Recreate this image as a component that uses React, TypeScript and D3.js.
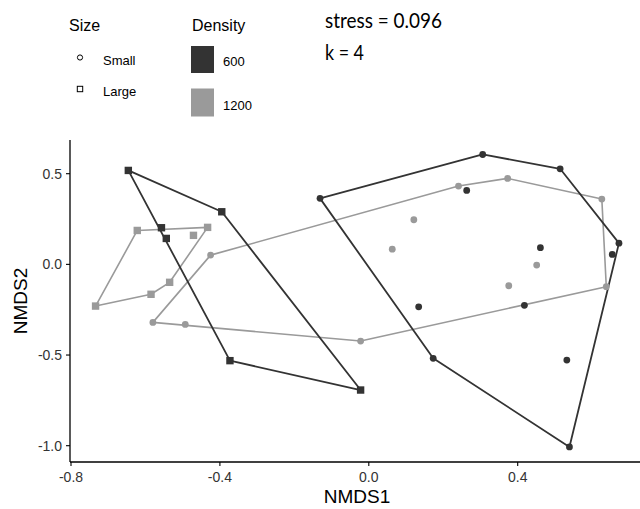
import React from "react";
import * as d3 from "d3";

// ---- data (NMDS scores) ----
const smallDarkX = [-0.131, 0.306, 0.514, 0.672, 0.654, 0.263, 0.461, 0.134, 0.418, 0.173, 0.532, 0.539];
const smallDarkY = [0.364, 0.606, 0.527, 0.117, 0.055, 0.408, 0.092, -0.234, -0.226, -0.518, -0.528, -1.007];
const smallLightX = [0.241, 0.373, 0.626, 0.638, 0.121, 0.063, 0.451, 0.376, -0.022, -0.425, -0.58, -0.493];
const smallLightY = [0.432, 0.474, 0.36, -0.123, 0.246, 0.084, -0.004, -0.118, -0.423, 0.051, -0.32, -0.331];
const largeDarkX = [-0.646, -0.395, -0.557, -0.544, -0.373, -0.022];
const largeDarkY = [0.518, 0.29, 0.202, 0.143, -0.531, -0.693];
const largeLightX = [-0.622, -0.433, -0.471, -0.535, -0.585, -0.734];
const largeLightY = [0.187, 0.204, 0.16, -0.099, -0.165, -0.23];

const xTicks = [-0.8, -0.4, 0.0, 0.4];
const yTicks = [-1.0, -0.5, 0.0, 0.5];
const densityLevels = ["600", "1200"];
const sizeLevels = ["Small", "Large"];
const stressText = "stress = 0.096";
const kText = "k = 4";

const DARK = "#333333";
const LIGHT = "#9a9a9a";

export default function App() {
  const W = 640, H = 509;
  const left = 70, right = 640, top = 140, bottom = 462;
  const x = d3.scaleLinear().domain([-0.8, 0.4]).range([71, 517.7]);
  const y = d3.scaleLinear().domain([-1.0, 0.5]).range([445.7, 173.7]);

  const groups = [
    { xs: smallLightX, ys: smallLightY, color: LIGHT, shape: "circle" },
    { xs: largeLightX, ys: largeLightY, color: LIGHT, shape: "square" },
    { xs: smallDarkX, ys: smallDarkY, color: DARK, shape: "circle" },
    { xs: largeDarkX, ys: largeDarkY, color: DARK, shape: "square" },
  ];

  const font = "'Liberation Sans', Arial, sans-serif";
  const annFont = "Lato, 'Open Sans', sans-serif";

  return (
    <svg width={W} height={H} style={{ position: "absolute", left: 0, top: 0, background: "#fff" }}>
      <rect x={0} y={0} width={W} height={H} fill="#fff" />
      {/* hulls */}
      {groups.map((g, i) => {
        const pts: [number, number][] = g.xs.map((v, j) => [x(v), y(g.ys[j])]);
        const hull = d3.polygonHull(pts) || pts;
        return (
          <path key={"h" + i} d={"M" + hull.map((p) => p.join(",")).join("L") + "Z"}
            fill="none" stroke={g.color} strokeWidth={g.color === DARK ? 1.8 : 1.6} strokeLinejoin="round" />
        );
      })}
      {/* points */}
      {groups.map((g, i) =>
        g.xs.map((v, j) =>
          g.shape === "circle" ? (
            <circle key={"p" + i + "-" + j} cx={x(v)} cy={y(g.ys[j])} r={3.4} fill={g.color} />
          ) : (
            <rect key={"p" + i + "-" + j} x={x(v) - 3.7} y={y(g.ys[j]) - 3.7} width={7.4} height={7.4} fill={g.color} />
          )
        )
      )}
      {/* axes */}
      <line x1={left} x2={left} y1={top} y2={bottom} stroke="#000" strokeWidth={1.3} />
      <line x1={left} x2={right} y1={bottom} y2={bottom} stroke="#000" strokeWidth={1.3} />
      {xTicks.map((t) => (
        <g key={"xt" + t}>
          <line x1={x(t)} x2={x(t)} y1={bottom} y2={bottom + 4} stroke="#000" strokeWidth={1.1} />
          <text x={x(t)} y={482} textAnchor="middle" fontFamily={font} fontSize={14} fill="#333">
            {d3.format(".1f")(t).replace("−", "-")}
          </text>
        </g>
      ))}
      {yTicks.map((t) => (
        <g key={"yt" + t}>
          <line x1={left - 4} x2={left} y1={y(t)} y2={y(t)} stroke="#000" strokeWidth={1.1} />
          <text x={62} y={y(t) + 5} textAnchor="end" fontFamily={font} fontSize={14} fill="#333">
            {d3.format(".1f")(t).replace("−", "-")}
          </text>
        </g>
      ))}
      <text x={357} y={503} textAnchor="middle" fontFamily={font} fontSize={19} fill="#000">NMDS1</text>
      <text transform={`translate(27,301) rotate(-90)`} textAnchor="middle" fontFamily={font} fontSize={19} fill="#000">NMDS2</text>

      {/* legend: Size */}
      <text x={69} y={31} fontFamily={font} fontSize={16} fill="#000">Size</text>
      <circle cx={80} cy={57.5} r={2.6} fill="none" stroke="#000" strokeWidth={1} />
      <rect x={77.3} y={86.3} width={5.4} height={5.4} fill="none" stroke="#000" strokeWidth={1} />
      <text x={103} y={64.5} fontFamily={font} fontSize={13} fill="#000">{sizeLevels[0]}</text>
      <text x={103} y={96} fontFamily={font} fontSize={13} fill="#000">{sizeLevels[1]}</text>

      {/* legend: Density */}
      <text x={192} y={31} fontFamily={font} fontSize={16} fill="#000">Density</text>
      <rect x={191} y={46} width={23} height={27} fill={DARK} />
      <rect x={191} y={88.5} width={23} height={28} fill={LIGHT} />
      <text x={223} y={65.5} fontFamily={font} fontSize={13} fill="#000">{densityLevels[0]}</text>
      <text x={223} y={110} fontFamily={font} fontSize={13} fill="#000">{densityLevels[1]}</text>

      {/* stress annotation */}
      <text x={325} y={27.5} fontFamily={annFont} fontSize={21} fill="#000"
        textLength={117} lengthAdjust="spacingAndGlyphs">{stressText}</text>
      <text x={325} y={59.5} fontFamily={annFont} fontSize={21} fill="#000"
        textLength={39} lengthAdjust="spacingAndGlyphs">{kText}</text>
    </svg>
  );
}
